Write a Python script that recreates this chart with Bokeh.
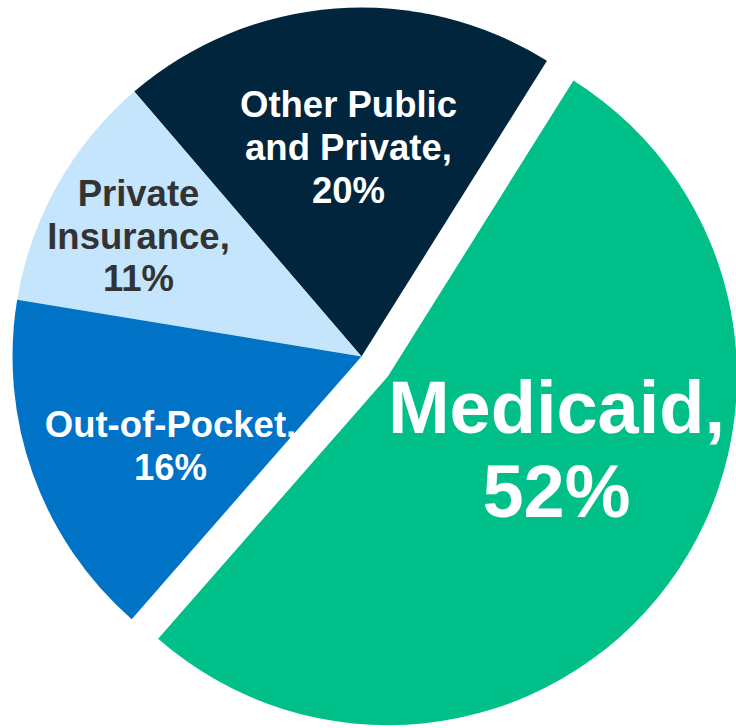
import math
from bokeh.plotting import figure
from bokeh.models import Range1d, ColumnDataSource
from bokeh.core.properties import value
from bokeh.embed import file_html
from bokeh.resources import INLINE

# ---- data ----
categories = ["Other Public and Private", "Private Insurance", "Out-of-Pocket", "Medicaid"]
shares = [20, 11, 16, 52]
label_names = [["Other Public", "and Private,"], ["Private", "Insurance,"], ["Out-of-Pocket,"], ["Medicaid,"]]

# ---- style / layout ----
colors = ["#00253C", "#C4E5FC", "#0073C7", "#00BF88"]
explode = [0, 0, 0, 33]
start_deg = 57.9
cx, cy_screen, radius = 361, 356, 349
W, H = 736, 728

label_x = [348, 138, 170, 556]
label_first_y = [104, 193, 424, 407]
label_step = [43, 42.5, 43, 84]
label_size = ["36.5px", "36.5px", "36.5px", "74px"]
label_color = ["#FFFFFF", "#333333", "#FFFFFF", "#FFFFFF"]


def ydata(ys):
    # screen y (from window top) -> data y
    return H - ys


total = float(sum(shares))
starts, ends, xs, ys = [], [], [], []
a = math.radians(start_deg)
for v, ex in zip(shares, explode):
    span = 2 * math.pi * v / total
    mid = a + span / 2
    starts.append(a)
    ends.append(a + span)
    xs.append(cx + ex * math.cos(mid))
    ys.append(ydata(cy_screen) + ex * math.sin(mid))
    a += span

src = ColumnDataSource(dict(x=xs, y=ys, start=starts, end=ends, color=colors, cat=categories))

p = figure(width=W, height=H, output_backend="svg", toolbar_location=None,
           x_range=Range1d(0, W), y_range=Range1d(0, H),
           x_axis_type=None, y_axis_type=None, min_border=0)
p.min_border_left = p.min_border_right = p.min_border_top = p.min_border_bottom = 0
p.grid.visible = False
p.outline_line_color = None
p.background_fill_color = "white"
p.border_fill_color = "white"

p.wedge(x="x", y="y", radius=radius, start_angle="start", end_angle="end",
        fill_color="color", line_color=None, source=src)

tx, ty, tt, tsize, tcol = [], [], [], [], []
for i, (names, v) in enumerate(zip(label_names, shares)):
    lines = names + [f"{v}%"]
    for j, line in enumerate(lines):
        tx.append(label_x[i])
        ty.append(ydata(label_first_y[i] + j * label_step[i]))
        tt.append(line)
        tsize.append(label_size[i])
        tcol.append(label_color[i])

tsrc = ColumnDataSource(dict(x=tx, y=ty, text=tt, size=tsize, color=tcol))
p.text(x="x", y="y", text="text", source=tsrc, text_align="center",
       text_baseline="alphabetic", text_font=value("Liberation Sans"),
       text_font_style="bold", text_font_size="size", text_color="color")

open("out.html", "w").write(file_html(p, INLINE))
